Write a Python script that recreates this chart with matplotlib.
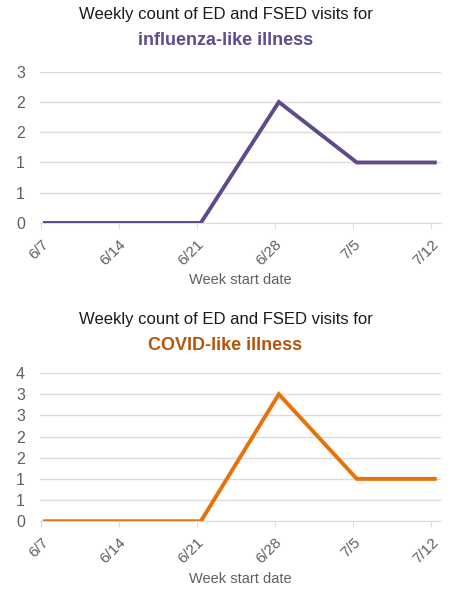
import matplotlib
matplotlib.use("Agg")
import matplotlib.pyplot as plt
from matplotlib.ticker import FixedLocator, FuncFormatter

plt.rcParams["font.family"] = ["Liberation Sans", "DejaVu Sans"]

weeks = ["6/7", "6/14", "6/21", "6/28", "7/5", "7/12"]
ili_counts = [0, 0, 0, 2, 1, 1]
cli_counts = [0, 0, 0, 3, 1, 1]
ili_ticks = [0, 0.5, 1, 1.5, 2, 2.5]
cli_ticks = [0, 0.5, 1, 1.5, 2, 2.5, 3, 3.5]

PURPLE = "#5f4b8b"
ORANGE_LINE = "#e8710a"
ORANGE_TITLE = "#b5540b"
GRID = "#dcdcdc"
TICK = "#606060"


def excel_round(v, _pos=None):
    # axis labels shown with zero decimals, halves rounded up
    return str(int(v + 0.5))


def draw_panel(fig, rect, counts, yticks, color, title_y, subtitle, subtitle_color):
    ax = fig.add_axes(rect)
    x = list(range(len(weeks)))
    ax.plot(x, counts, color=color, lw=2.8, solid_joinstyle="miter", zorder=3)
    ax.set_xlim(-0.06, len(weeks) - 1 + 0.08)
    ax.set_ylim(0, yticks[-1])
    ax.yaxis.set_major_locator(FixedLocator(yticks))
    ax.yaxis.set_major_formatter(FuncFormatter(excel_round))
    ax.grid(axis="y", color=GRID, lw=1)
    ax.set_axisbelow(True)
    for side in ("top", "right", "left"):
        ax.spines[side].set_visible(False)
    ax.spines["bottom"].set_color(GRID)
    ax.set_xticks([i - 0.05 for i in x])
    ax.set_xticklabels(weeks, rotation=45, ha="right", rotation_mode="anchor")
    ax.tick_params(axis="x", colors=TICK, labelsize=11, length=4, color=GRID, pad=6)
    ax.tick_params(axis="y", colors=TICK, labelsize=11.5, length=0, pad=11)
    ax.set_xlabel("Week start date", color=TICK, fontsize=10.5, labelpad=4)
    fig.text(0.5, title_y, "Weekly count of ED and FSED visits for",
             ha="center", va="center", fontsize=12, color="#1a1a1a")
    fig.text(0.5, title_y - 0.044, subtitle, ha="center", va="center",
             fontsize=13, fontweight="bold", color=subtitle_color)
    return ax


fig = plt.figure(figsize=(4.51, 5.93), dpi=100)
draw_panel(fig, [0.089, 0.624, 0.889, 0.255], ili_counts, ili_ticks, PURPLE,
           0.975, "influenza-like illness", PURPLE)
draw_panel(fig, [0.089, 0.121, 0.889, 0.250], cli_counts, cli_ticks, ORANGE_LINE,
           0.462, "COVID-like illness", ORANGE_TITLE)
fig.savefig("out.png", dpi=100)
